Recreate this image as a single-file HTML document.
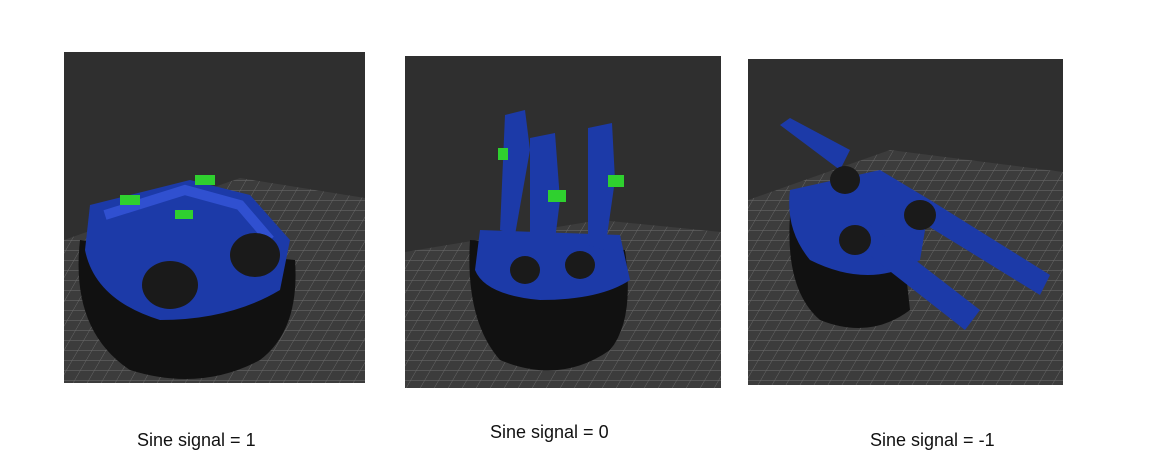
<!DOCTYPE html>
<html><head><meta charset="utf-8"><style>
body{margin:0;background:#fff;width:1149px;height:468px;overflow:hidden;position:relative;font-family:"Liberation Sans",sans-serif}
.lbl{position:absolute;font-size:18px;color:#111}
</style></head><body>
<svg width="1149" height="468" style="position:absolute;left:0;top:0">
<defs>
<pattern id="g" width="14" height="10" patternUnits="userSpaceOnUse" patternTransform="skewX(-30)">
<rect width="14" height="10" fill="#3c3c3c"/><path d="M0 0H14M0 0V10" stroke="#6a6a6a" stroke-width="1"/></pattern>
</defs>
<!-- panel 1 -->
<g>
<rect x="64" y="52" width="301" height="331" fill="#2f2f2f"/>
<polygon points="64,240 240,178 365,198 365,383 64,383" fill="url(#g)"/>
<path d="M80,240 Q70,330 130,370 Q200,392 260,360 Q300,330 295,260 Z" fill="#111"/>
<path d="M90,205 L190,180 L250,195 L290,240 L280,290 Q230,320 160,320 Q95,300 85,250 Z" fill="#1c3aa8"/>
<path d="M105,215 L185,190 L240,205 L270,240" stroke="#3050d0" stroke-width="10" fill="none"/>
<rect x="120" y="195" width="20" height="10" fill="#2fd02f"/><rect x="195" y="175" width="20" height="10" fill="#2fd02f"/><rect x="175" y="210" width="18" height="9" fill="#2fd02f"/>
<ellipse cx="170" cy="285" rx="28" ry="24" fill="#1a1a1a"/><ellipse cx="255" cy="255" rx="25" ry="22" fill="#1a1a1a"/>
</g>
<!-- panel 2 -->
<g>
<rect x="405" y="56" width="316" height="332" fill="#2f2f2f"/>
<polygon points="405,252 600,220 721,232 721,388 405,388" fill="url(#g)"/>
<path d="M470,240 Q465,320 500,360 Q560,385 610,350 Q635,320 625,250 Z" fill="#111"/>
<path d="M480,230 L620,235 L630,280 Q600,300 540,300 Q485,295 475,270 Z" fill="#1c3aa8"/>
<polygon points="505,115 525,110 530,150 515,235 500,230" fill="#1c3aa8"/>
<polygon points="530,138 555,133 560,200 550,280 530,275" fill="#1c3aa8"/>
<polygon points="588,128 612,123 615,180 605,250 588,245" fill="#1c3aa8"/>
<rect x="548" y="190" width="18" height="12" fill="#2fd02f"/><rect x="608" y="175" width="16" height="12" fill="#2fd02f"/><rect x="498" y="148" width="10" height="12" fill="#2fd02f"/>
<ellipse cx="525" cy="270" rx="15" ry="14" fill="#1a1a1a"/><ellipse cx="580" cy="265" rx="15" ry="14" fill="#1a1a1a"/>
</g>
<!-- panel 3 -->
<g>
<rect x="748" y="59" width="315" height="326" fill="#2f2f2f"/>
<polygon points="748,200 890,150 1063,172 1063,385 748,385" fill="url(#g)"/>
<path d="M790,215 Q785,290 820,320 Q870,340 910,310 L900,220 Z" fill="#111"/>
<path d="M790,190 L880,170 L930,200 L920,260 Q870,290 810,260 Q785,230 790,190 Z" fill="#1c3aa8"/>
<polygon points="780,125 790,118 850,150 840,170" fill="#1c3aa8"/>
<polygon points="910,215 930,200 1050,275 1040,295" fill="#1c3aa8"/>
<polygon points="850,240 870,225 980,310 965,330" fill="#1c3aa8"/>
<ellipse cx="845" cy="180" rx="15" ry="14" fill="#1a1a1a"/><ellipse cx="920" cy="215" rx="16" ry="15" fill="#1a1a1a"/><ellipse cx="855" cy="240" rx="16" ry="15" fill="#1a1a1a"/>
</g>
</svg>
<div class="lbl" style="left:137px;top:430px">Sine signal = 1</div>
<div class="lbl" style="left:490px;top:422px">Sine signal = 0</div>
<div class="lbl" style="left:870px;top:430px">Sine signal = -1</div>
</body></html>
